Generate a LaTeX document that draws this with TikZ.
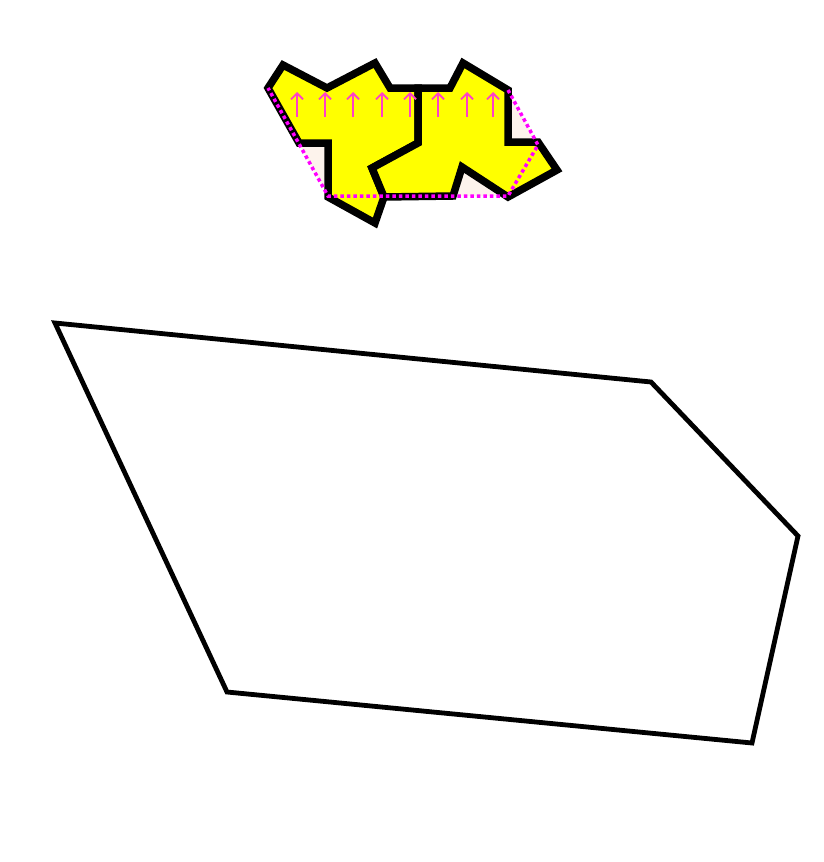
\documentclass[tikz,border=0pt]{standalone}
\usetikzlibrary{arrows.meta}
\definecolor{tileyellow}{RGB}{255,255,0}
\definecolor{hullfill}{RGB}{253,243,236}
\definecolor{hullline}{RGB}{255,0,255}
\definecolor{arrowpink}{RGB}{255,64,200}
\tikzset{
  tile/.style={fill=tileyellow, draw=black, line width=7.5pt, line join=miter},
  hulldots/.style={draw=hullline, line width=3.5pt, dash pattern=on 3.5pt off 3pt},
  uparrow/.style={draw=arrowpink, line width=1.8pt, -{Straight Barb[length=6pt,width=12pt,line width=1.8pt]}},
  outline/.style={draw=black, line width=4.8pt, line join=miter}
}
\begin{document}
\begin{tikzpicture}[x=1pt,y=-1pt]
\useasboundingbox (0,0) rectangle (823,862);
% hull fill
\fill[hullfill] (268,88) -- (508,90) -- (538,145) -- (508,196) -- (328,196) -- cycle;
% left tile
\path[tile] (268,88) -- (283,65) -- (327,88) -- (375,63) -- (390,88) -- (418,88)
  -- (418,143) -- (372,168) -- (384,197) -- (375,223) -- (328,197) -- (328,143)
  -- (299,143) -- cycle;
% right tile
\path[tile] (418,88) -- (450,88) -- (463,63) -- (508,90) -- (508,142) -- (538,142)
  -- (557,170) -- (508,197) -- (462,167) -- (453,196) -- (384,197) -- (372,168)
  -- (418,143) -- cycle;
% arrows
\foreach \xx in {297,325,353,382,410,438,467,493}{
  \draw[uparrow] (\xx,117) -- (\xx,92);
}
% dotted hull
\draw[hulldots] (508,90) -- (538,145) -- (508,196) -- (328,196) -- (268,88);
% big outline
\draw[outline] (55,323) -- (651,382) -- (798,536) -- (752,743) -- (227,692) -- cycle;
\end{tikzpicture}
\end{document}
